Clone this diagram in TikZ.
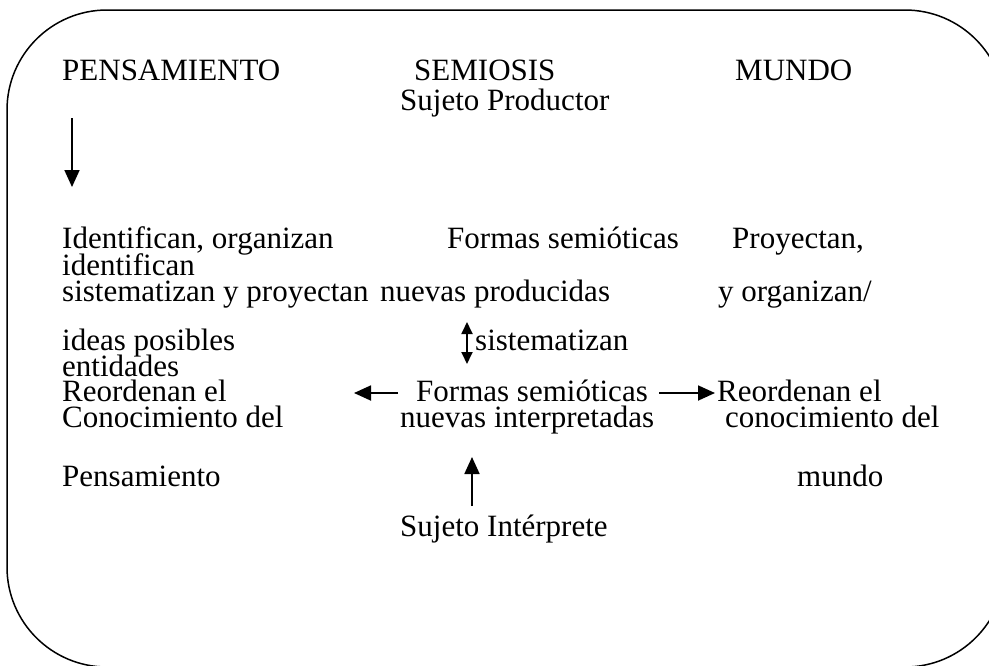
\documentclass[tikz,border=0pt]{standalone}
\usepackage{fontspec}
\setmainfont{Liberation Serif}
\usetikzlibrary{arrows.meta, positioning}

\begin{document}
\begin{tikzpicture}[
  x=1pt, y=-1pt,
  every node/.style={font=\fontsize{31}{26}\selectfont, inner sep=0pt, anchor=base west},
  link/.style={draw, -{Triangle[length=17pt, width=15pt]}, line width=1.8pt},
  both/.style={draw, {Triangle[length=12pt, width=11pt]}-{Triangle[length=12pt, width=11pt]}, line width=1.8pt},
  frame/.style={draw, line width=1.5pt, rounded corners=100pt}
]
\useasboundingbox (0,0) rectangle (989,665);
\clip (0,0) rectangle (989,665);
\draw[frame] (7,10) rectangle (1005,667);

% cabecera
\node (pens) at (62,80) {PENSAMIENTO};
\node (semi) at (414,80) {SEMIOSIS};
\node (mund) at (735,80) {MUNDO};
\node (prod) at (400,110) {Sujeto Productor};

% bloque superior
\node (ident) at (62,248) {Identifican, organizan};
\node (fsp) at (447,248) {Formas semióticas};
\node (proy) at (732,248) {Proyectan,};
\node (ident2) at (62,275) {identifican};
\node (sist) at (62,301) {sistematizan y proyectan};
\node (nprod) at (380,301) {nuevas producidas};
\node (yorg) at (718,301) {y organizan/};
\node (ideas) at (62,350) {ideas posibles};
\node (sist2) at (475,350) {sistematizan};
\node (ent) at (62,376) {entidades};

% bloque inferior
\node (reo) at (62,401) {Reordenan el};
\node (fsi) at (416,401) {Formas semióticas};
\node (reo2) at (717,401) {Reordenan el};
\node (conp) at (62,427) {Conocimiento del};
\node (ninter) at (400,427) {nuevas interpretadas};
\node (conm) at (725,427) {conocimiento del};
\node (pens2) at (62,486) {Pensamiento};
\node (mund2) at (797,486) {mundo};
\node (inter) at (400,536) {Sujeto Intérprete};

\coordinate (d1) at (72,118);
\coordinate (d2) at (72,187);
\coordinate (s1) at (467,322);
\coordinate (s2) at (467,364);
\coordinate (l1) at (398,393);
\coordinate (l2) at (354,393);
\coordinate (r1) at (659,393);
\coordinate (r2) at (715,393);
\coordinate (u1) at (472,506);
\coordinate (u2) at (472,457);

\draw[link] (d1) -- (d2);
\draw[both] (s1) -- (s2);
\draw[link] (l1) -- (l2);
\draw[link] (r1) -- (r2);
\draw[link] (u1) -- (u2);
\end{tikzpicture}
\end{document}
